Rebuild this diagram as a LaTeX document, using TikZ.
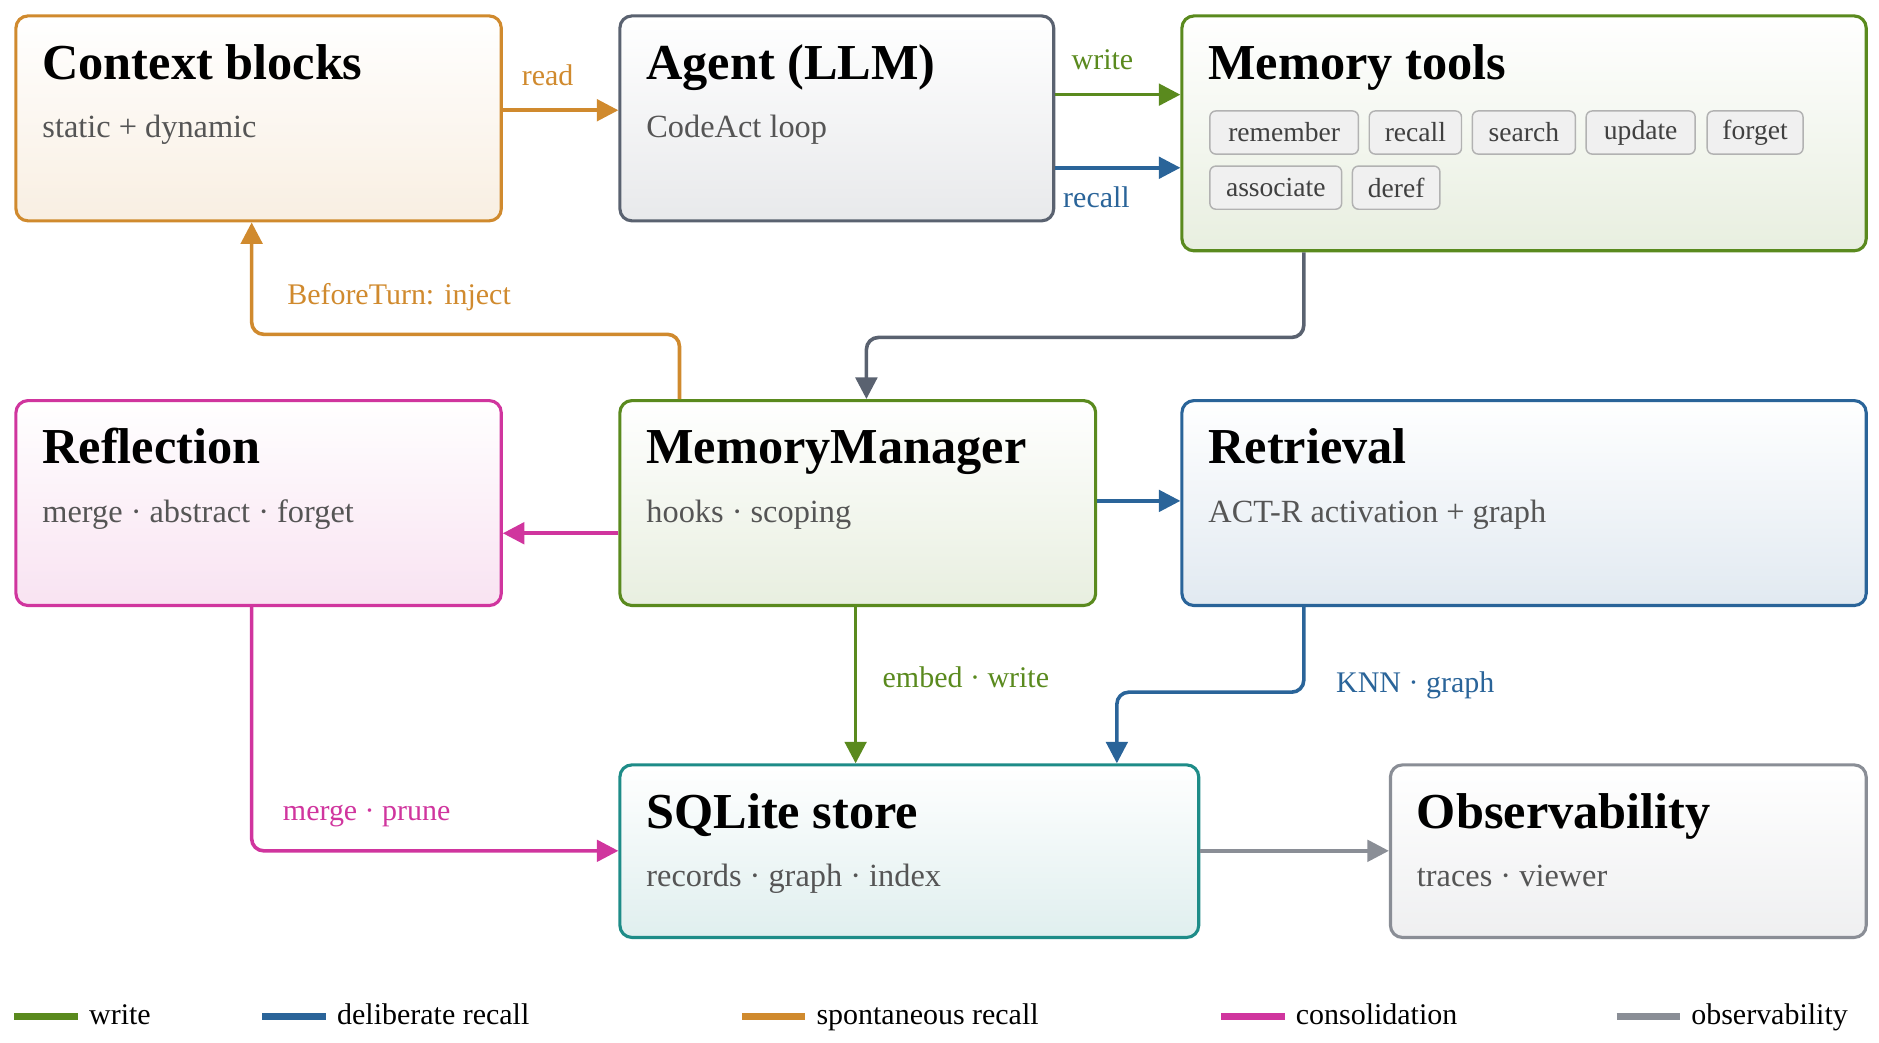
\documentclass[tikz,border=0pt]{standalone}
\usepackage{fontspec}
\setmainfont{Liberation Serif}
\usetikzlibrary{arrows.meta}
\usetikzlibrary{positioning}
\definecolor{cwrite}{HTML}{5A8A1E}
\definecolor{crecall}{HTML}{2A6499}
\definecolor{cspont}{HTML}{D08A2E}
\definecolor{cconsol}{HTML}{D0359E}
\definecolor{cobs}{HTML}{8A8E96}
\definecolor{cagent}{HTML}{5A6270}
\definecolor{cstore}{HTML}{1E8C88}
\definecolor{csub}{HTML}{555555}
\tikzset{panel/.style = {draw, line width=1.3pt, rounded corners=5pt, anchor=north west,
                         inner sep=0, align=left}}
\tikzset{ttl/.style = {anchor=base west, font=\fontsize{21}{24}\selectfont\bfseries, inner sep=0}}
\tikzset{sub/.style = {anchor=base west, font=\fontsize{13.5}{16}\selectfont, text=csub, inner sep=0}}
\tikzset{chip/.style = {draw=black!30, fill=black!6, rounded corners=2.5pt, line width=0.6pt,
                        anchor=north west, inner sep=0, font=\fontsize{11.5}{14}\selectfont, text=black!75}}
\tikzset{link/.style = {line width=1.5pt, rounded corners=5pt, -{Triangle[length=9pt, width=9pt]}}}
\tikzset{lbl/.style = {font=\fontsize{12.5}{15}\selectfont, inner sep=0}}

\begin{document}
\begin{tikzpicture}[x=0.5pt, y=-0.5pt]
      \useasboundingbox (0, 0) rectangle (1568, 870);
      % boxes
      \foreach \n/\x/\y/\w/\h/\c/\t/\s in {
          ctx/12/12/405/171/cspont/Context blocks/static + dynamic,
          agent/516/12/362/171/cagent/Agent (LLM)/CodeAct loop,
          tools/985/12/571/196/cwrite/Memory tools/,
          refl/12/333/405/171/cconsol/Reflection/merge · abstract · forget,
          mm/516/333/397/171/cwrite/MemoryManager/hooks · scoping,
          ret/985/333/571/171/crecall/Retrieval/ACT-R activation + graph,
          sql/516/637/483/144/cstore/SQLite store/records · graph · index,
          obs/1159/637/397/144/cobs/Observability/traces · viewer} {
        \node [panel, draw=\c, top color=white, bottom color=\c!14,
               minimum width=\w*0.5pt, minimum height=\h*0.5pt] (\n) at (\x, \y) {};
        \node [ttl] (\n-t) at (\x+23, \y+54) {\t};
        \node [sub] (\n-s) at (\x+23, \y+103) {\s};
      }
      % tool chips
      \foreach \n/\x/\y/\w in {remember/1009/92/124, recall/1142/92/77, search/1228/92/86,
          update/1323/92/91, forget/1424/92/80, associate/1009/138/110, deref/1128/138/73} {
        \node [chip, minimum width=\w*0.5pt, minimum height=18pt] (chip-\n) at (\x, \y) {\n};
      }

      \draw [link, cspont] ([yshift=-40pt]ctx.north east) -- ([yshift=-40pt]agent.north west);
      \draw [link, cwrite] ([yshift=-33.5pt]agent.north east) -- ([yshift=-33.5pt]tools.north west);
      \draw [link, crecall] ([yshift=-64pt]agent.north east) -- ([yshift=-64pt]tools.north west);
      \draw [link, cagent] ([xshift=51.5pt]tools.south west) -- ++(0, 71) -| ([xshift=103.5pt]mm.north west);
      \draw [link, cspont] ([xshift=25.5pt]mm.north west) -- ++(0, -54) -| ([xshift=99pt]ctx.south west);
      \draw [link, cconsol] ([yshift=-56pt]mm.north west) -- ([yshift=-56pt]refl.north east);
      \draw [link, crecall] ([yshift=-42.5pt]mm.north east) -- ([yshift=-42.5pt]ret.north west);
      \draw [link, cwrite] ([xshift=99pt]mm.south west) -- ([xshift=99pt]sql.north west);
      \draw [link, crecall] ([xshift=51.5pt]ret.south west) -- ++(0, 71) -| ([xshift=208pt]sql.north west);
      \draw [link, cconsol] ([xshift=99pt]refl.south west) |- ([yshift=-36.5pt]sql.north west);
      \draw [link, cobs] ([yshift=-36.5pt]sql.north east) -- ([yshift=-36.5pt]obs.north west);

      \node [lbl, text=cspont] (l-read) at (457, 63) {read};
      \node [lbl, text=cwrite] (l-write) at (920, 50) {write};
      \node [lbl, text=crecall] (l-recall) at (915, 165) {recall};
      \node [lbl, text=cspont] (l-inject) at (333, 248) {BeforeTurn: inject};
      \node [lbl, text=cwrite] (l-embed) at (806, 565) {embed · write};
      \node [lbl, text=crecall] (l-knn) at (1181, 572) {KNN · graph};
      \node [lbl, text=cconsol] (l-merge) at (306, 681) {merge · prune};

      % legend
      \foreach \n/\x/\c/\t in {write/12/cwrite/write, delib/219/crecall/deliberate recall,
          spont/619/cspont/spontaneous recall, consol/1019/cconsol/consolidation,
          obsv/1349/cobs/observability} {
        \coordinate (key-\n) at (\x, 848);
        \draw [\c, line width=3pt] (key-\n) -- ++(53, 0);
        \node [lbl, anchor=base west] (leg-\n) at (\x+62, 855) {\t};
      }
    \end{tikzpicture}
\end{document}
